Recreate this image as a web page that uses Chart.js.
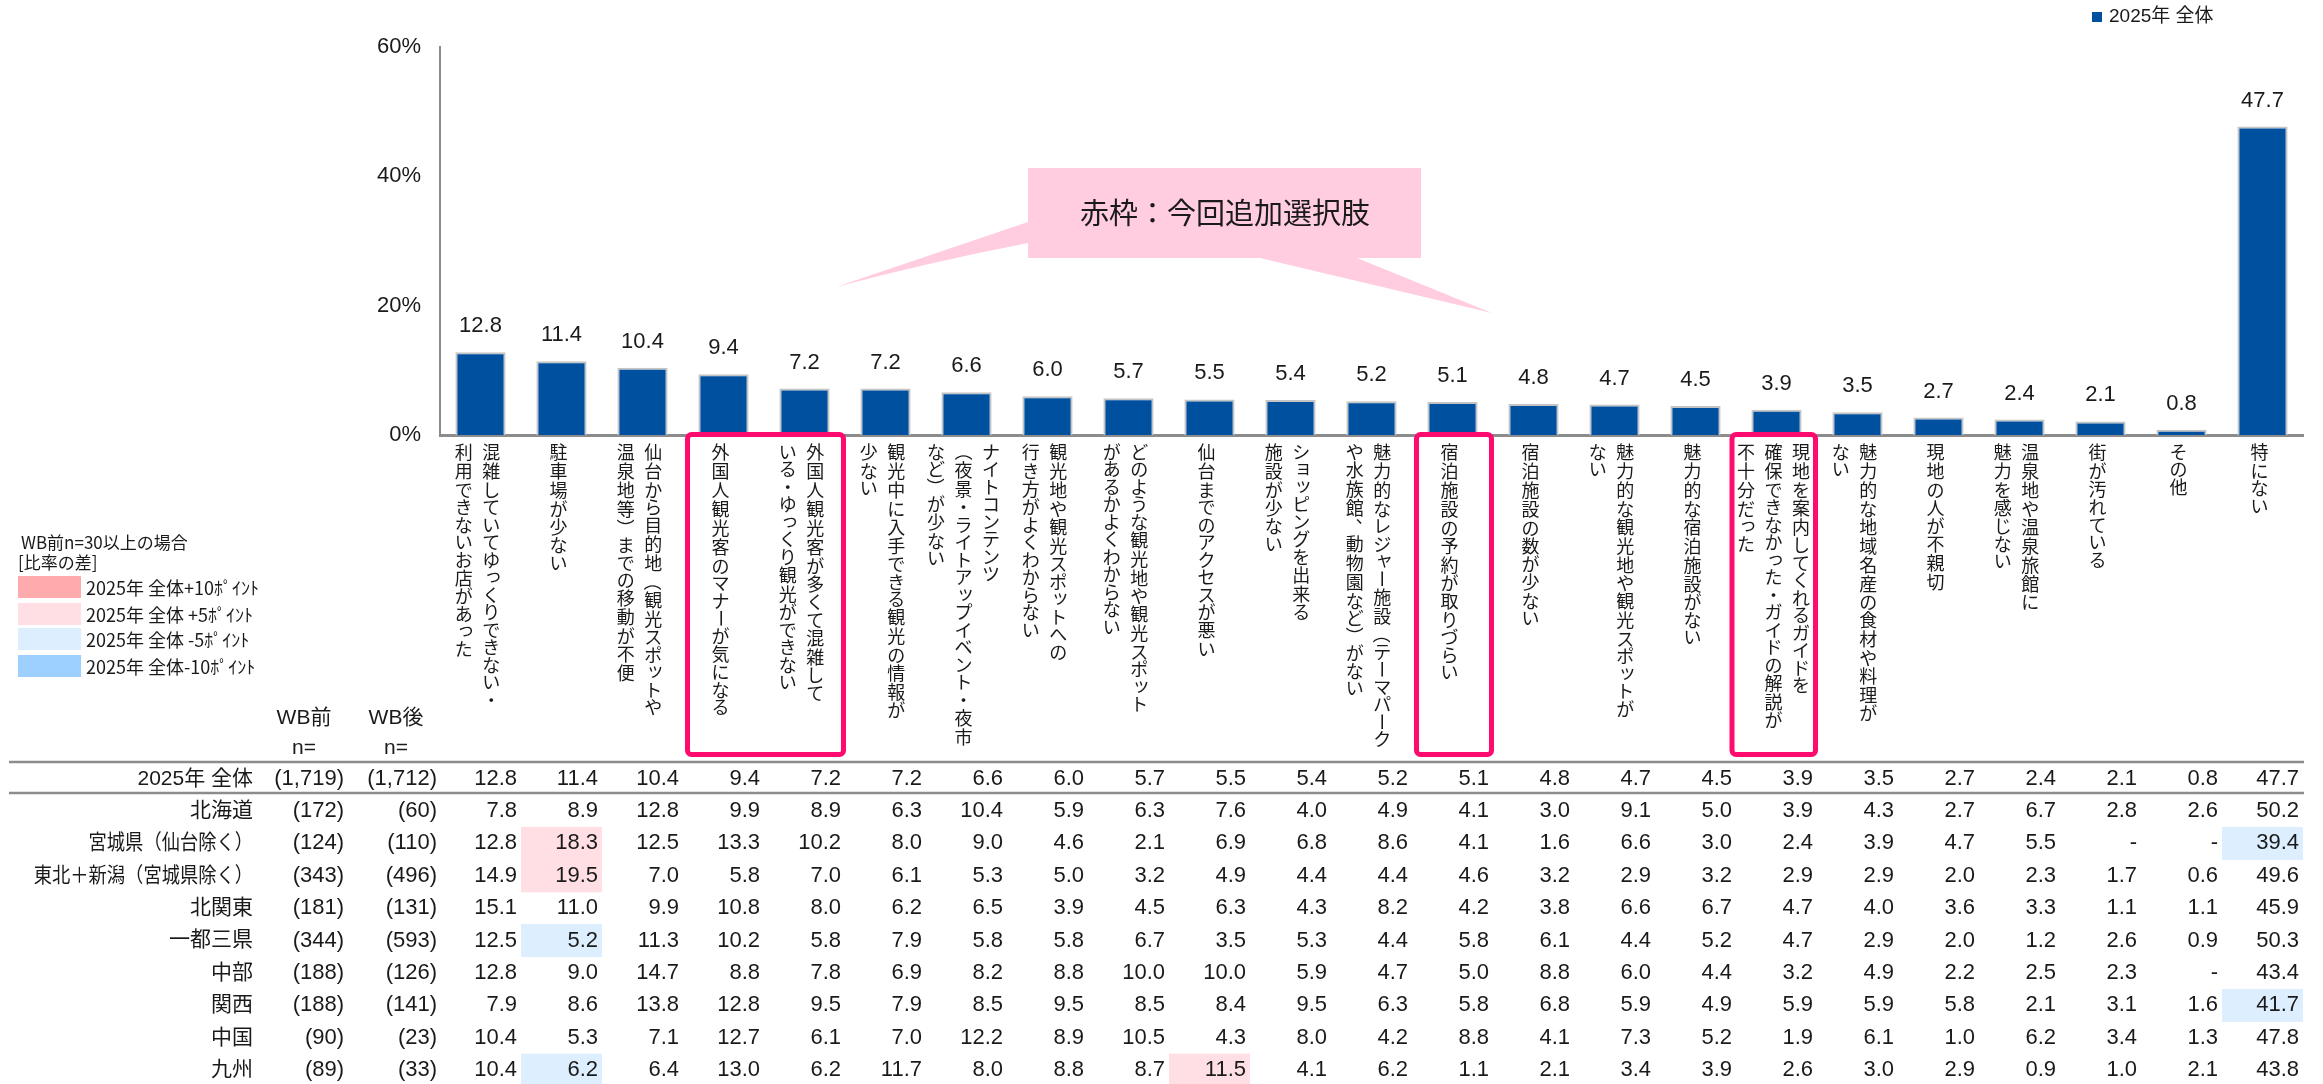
<!DOCTYPE html>
<html lang="ja">
<head>
  <meta charset="UTF-8" />
  <title>旅行先で不満に感じたこと</title>
  <script src="https://cdn.jsdelivr.net/npm/chart.js"></script>
  <style>
    html, body {
      margin: 0;
      padding: 0;
      background: #ffffff;
    }
    canvas {
      display: block;
    }
  </style>
</head>
<body>
  <canvas id="grafico" width="2323" height="1084"></canvas>

  <script>
    // Categorias (cada item = colunas do texto vertical, da direita para a esquerda)
    const categorias = [
      ['混雑していてゆっくりできない・', '利用できないお店があった'],
      ['駐車場が少ない'],
      ['仙台から目的地（観光スポットや', '温泉地等）までの移動が不便'],
      ['外国人観光客のマナーが気になる'],
      ['外国人観光客が多くて混雑して', 'いる・ゆっくり観光ができない'],
      ['観光中に入手できる観光の情報が', '少ない'],
      ['ナイトコンテンツ', '（夜景・ライトアップイベント・夜市', 'など）が少ない'],
      ['観光地や観光スポットへの', '行き方がよくわからない'],
      ['どのような観光地や観光スポット', 'があるかよくわからない'],
      ['仙台までのアクセスが悪い'],
      ['ショッピングを出来る', '施設が少ない'],
      ['魅力的なレジャー施設（テーマパーク', 'や水族館、動物園など）がない'],
      ['宿泊施設の予約が取りづらい'],
      ['宿泊施設の数が少ない'],
      ['魅力的な観光地や観光スポットが', 'ない'],
      ['魅力的な宿泊施設がない'],
      ['現地を案内してくれるガイドを', '確保できなかった・ガイドの解説が', '不十分だった'],
      ['魅力的な地域名産の食材や料理が', 'ない'],
      ['現地の人が不親切'],
      ['温泉地や温泉旅館に', '魅力を感じない'],
      ['街が汚れている'],
      ['その他'],
      ['特にない']
    ];

    const serieLabel = '2025年 全体';
    const total2025 = [12.8, 11.4, 10.4, 9.4, 7.2, 7.2, 6.6, 6.0, 5.7, 5.5, 5.4, 5.2, 5.1, 4.8, 4.7, 4.5, 3.9, 3.5, 2.7, 2.4, 2.1, 0.8, 47.7];
    const totalN = [1719, 1712];

    // Novos itens (faixas de índices com moldura vermelha)
    const novosItens = [[3, 4], [12, 12], [16, 16]];

    const yTicks = [0, 20, 40, 60];

    // Tabela por região
    const regioes = ['北海道', '宮城県（仙台除く）', '東北＋新潟（宮城県除く）', '北関東', '一都三県', '中部', '関西', '中国', '九州'];
    const nAntes = [172, 124, 343, 181, 344, 188, 188, 90, 89];
    const nDepois = [60, 110, 496, 131, 593, 126, 141, 23, 33];

    const hokkaido = [7.8, 8.9, 12.8, 9.9, 8.9, 6.3, 10.4, 5.9, 6.3, 7.6, 4.0, 4.9, 4.1, 3.0, 9.1, 5.0, 3.9, 4.3, 2.7, 6.7, 2.8, 2.6, 50.2];
    const miyagi = [12.8, 18.3, 12.5, 13.3, 10.2, 8.0, 9.0, 4.6, 2.1, 6.9, 6.8, 8.6, 4.1, 1.6, 6.6, 3.0, 2.4, 3.9, 4.7, 5.5, null, null, 39.4];
    const tohoku = [14.9, 19.5, 7.0, 5.8, 7.0, 6.1, 5.3, 5.0, 3.2, 4.9, 4.4, 4.4, 4.6, 3.2, 2.9, 3.2, 2.9, 2.9, 2.0, 2.3, 1.7, 0.6, 49.6];
    const kitaKanto = [15.1, 11.0, 9.9, 10.8, 8.0, 6.2, 6.5, 3.9, 4.5, 6.3, 4.3, 8.2, 4.2, 3.8, 6.6, 6.7, 4.7, 4.0, 3.6, 3.3, 1.1, 1.1, 45.9];
    const ittoSanken = [12.5, 5.2, 11.3, 10.2, 5.8, 7.9, 5.8, 5.8, 6.7, 3.5, 5.3, 4.4, 5.8, 6.1, 4.4, 5.2, 4.7, 2.9, 2.0, 1.2, 2.6, 0.9, 50.3];
    const chubu = [12.8, 9.0, 14.7, 8.8, 7.8, 6.9, 8.2, 8.8, 10.0, 10.0, 5.9, 4.7, 5.0, 8.8, 6.0, 4.4, 3.2, 4.9, 2.2, 2.5, 2.3, null, 43.4];
    const kansai = [7.9, 8.6, 13.8, 12.8, 9.5, 7.9, 8.5, 9.5, 8.5, 8.4, 9.5, 6.3, 5.8, 6.8, 5.9, 4.9, 5.9, 5.9, 5.8, 2.1, 3.1, 1.6, 41.7];
    const chugoku = [10.4, 5.3, 7.1, 12.7, 6.1, 7.0, 12.2, 8.9, 10.5, 4.3, 8.0, 4.2, 8.8, 4.1, 7.3, 5.2, 1.9, 6.1, 1.0, 6.2, 3.4, 1.3, 47.8];
    const kyushu = [10.4, 6.2, 6.4, 13.0, 6.2, 11.7, 8.0, 8.8, 8.7, 11.5, 4.1, 6.2, 1.1, 2.1, 3.4, 3.9, 2.6, 3.0, 2.9, 0.9, 1.0, 2.1, 43.8];
    const valoresRegiao = [hokkaido, miyagi, tohoku, kitaKanto, ittoSanken, chubu, kansai, chugoku, kyushu];

    // Legenda do mapa de cores
    const legendaTitulo = ['WB前n=30以上の場合', '[比率の差]'];
    const legendaItens = ['2025年 全体+10ﾎﾟｲﾝﾄ', '2025年 全体 +5ﾎﾟｲﾝﾄ', '2025年 全体 -5ﾎﾟｲﾝﾄ', '2025年 全体-10ﾎﾟｲﾝﾄ'];
    const calloutTexto = '赤枠：今回追加選択肢';

    const corBarra = '#0050a0';
    const corMais10 = '#ffaaad';
    const corMais5 = '#ffdfe3';
    const corMenos5 = '#ddeeff';
    const corMenos10 = '#9dcfff';
    const corLinha = '#8c8c8c';
    const corTexto = '#1a1a1a';
    const fonteLatina = '"Liberation Sans", "Noto Sans CJK JP", sans-serif';
    const fonteJP = '"Noto Sans CJK JP", sans-serif';

    const colunaPasso = 27.5;

    // Diferença em relação ao total (só quando n >= 30)
    function corDiferenca(v, base, n) {
      if (v === null || n < 30) return null;
      const d = Math.round((v - base) * 10) / 10;
      if (d > 10) return corMais10;
      if (d > 5) return corMais5;
      if (d < -10) return corMenos10;
      if (d < -5) return corMenos5;
      return null;
    }

    // Texto vertical, caractere por caractere
    function textoVertical(ctx, texto, x, y) {
      let cy = y;
      for (const ch of texto) {
        const passo = /[\u4e00-\u9fff]/.test(ch) ? 19 : 17.5;
        const meio = cy + passo / 2;
        if ('ー（）～－'.includes(ch)) {
          ctx.save();
          ctx.translate(x, meio);
          ctx.rotate(Math.PI / 2);
          ctx.fillText(ch, 0, 0);
          ctx.restore();
        } else if ('、。'.includes(ch)) {
          ctx.fillText(ch, x + passo * 0.55, meio - passo * 0.55);
        } else if ('ッっャュョィァぁゃゅょ'.includes(ch)) {
          ctx.fillText(ch, x + 2, meio - 2);
        } else {
          ctx.fillText(ch, x, meio);
        }
        cy += passo;
      }
    }

    const desenhoExtra = {
      id: 'desenhoExtra',
      afterDraw(chart) {
        const ctx = chart.ctx;
        const xs = chart.scales.x;
        const meta = chart.getDatasetMeta(0);
        const meia = (xs.getPixelForValue(1) - xs.getPixelForValue(0)) / 2;
        const fimLinha = xs.right + 1;
        const colunaX = (i, j) => {
          const k = categorias[i].length;
          return xs.getPixelForValue(i) - 3 + ((k - 1) / 2 - j) * colunaPasso;
        };

        ctx.save();

        // Rótulos de valor acima das barras
        ctx.fillStyle = corTexto;
        ctx.font = '22px ' + fonteLatina;
        ctx.textAlign = 'center';
        ctx.textBaseline = 'middle';
        meta.data.forEach((bar, i) => {
          ctx.fillText(total2025[i].toFixed(1), bar.x, bar.y - 26);
        });

        // Categorias em texto vertical
        ctx.font = '18px ' + fonteJP;
        categorias.forEach((linhas, i) => {
          linhas.forEach((linha, j) => {
            textoVertical(ctx, linha, colunaX(i, j), 443);
          });
        });

        // Molduras vermelhas dos novos itens
        ctx.strokeStyle = '#ff0a6e';
        ctx.lineWidth = 5;
        novosItens.forEach(([a, b]) => {
          const textoEsq = colunaX(a, categorias[a].length - 1) - 9;
          const textoDir = colunaX(b, 0) + 9;
          const x0 = Math.min(xs.getPixelForValue(a) - meia + 4.5, textoEsq - 5);
          const x1 = Math.max(xs.getPixelForValue(b) + meia - 1.5, textoDir + 5);
          ctx.beginPath();
          ctx.roundRect(x0, chart.chartArea.bottom - 0.5, x1 - x0, 320, 4);
          ctx.stroke();
        });

        // Balão explicativo
        ctx.fillStyle = '#ffcce0';
        ctx.beginPath();
        ctx.moveTo(1028, 168);
        ctx.lineTo(1421, 168);
        ctx.lineTo(1421, 258);
        ctx.lineTo(1357, 258);
        ctx.lineTo(1492, 313);
        ctx.lineTo(1260, 258);
        ctx.lineTo(1028, 258);
        ctx.lineTo(1028, 243);
        ctx.quadraticCurveTo(930, 262, 836, 287);
        ctx.lineTo(1028, 222);
        ctx.closePath();
        ctx.fill();
        ctx.fillStyle = corTexto;
        ctx.font = '29px ' + fonteJP;
        ctx.textAlign = 'center';
        ctx.fillText(calloutTexto, 1225, 213);

        // Legenda da série (canto superior direito)
        ctx.fillStyle = corBarra;
        ctx.fillRect(2092, 12, 10, 10);
        ctx.fillStyle = corTexto;
        ctx.font = '19px ' + fonteLatina;
        ctx.textAlign = 'left';
        ctx.fillText(chart.data.datasets[0].label, 2109, 17);

        // Legenda das cores
        ctx.font = '17px ' + fonteJP;
        ctx.fillText(legendaTitulo[0], 21, 543);
        ctx.fillText(legendaTitulo[1], 18, 563);
        const coresLegenda = [corMais10, corMais5, corMenos5, corMenos10];
        const ysLegenda = [576, 603, 628, 655];
        legendaItens.forEach((txt, i) => {
          ctx.fillStyle = coresLegenda[i];
          ctx.fillRect(18, ysLegenda[i], 63, 22);
          ctx.fillStyle = corTexto;
          ctx.font = '18px ' + fonteJP;
          ctx.fillText(txt, 86, ysLegenda[i] + 12);
        });

        // Cabeçalho da tabela
        ctx.font = '21px ' + fonteLatina;
        ctx.textAlign = 'center';
        ctx.fillText('WB前', 304, 718);
        ctx.fillText('n=', 304, 748);
        ctx.fillText('WB後', 396, 718);
        ctx.fillText('n=', 396, 748);

        // Linhas da tabela
        ctx.strokeStyle = corLinha;
        ctx.lineWidth = 2.5;
        [762, 793].forEach((y) => {
          ctx.beginPath();
          ctx.moveTo(9, y);
          ctx.lineTo(fimLinha, y);
          ctx.stroke();
        });

        const fmtN = (n) => '(' + n.toLocaleString('en-US') + ')';
        const fmtV = (v) => (v === null ? '-' : v.toFixed(1));

        function linhaTabela(nome, n0, n1, valores, y, destacar) {
          valores.forEach((v, i) => {
            const cor = destacar ? corDiferenca(v, total2025[i], n1) : null;
            if (cor) {
              ctx.fillStyle = cor;
              ctx.fillRect(xs.getPixelForValue(i) - meia, y - 16.5, meia * 2, 33);
            }
          });
          ctx.fillStyle = corTexto;
          ctx.textAlign = 'right';
          ctx.font = '21px ' + fonteLatina;
          // parênteses largos: comprime um pouco o nome
          const larg = ctx.measureText(nome).width;
          ctx.fillText(nome, 253, y, nome.includes('（') ? larg * 0.87 : larg);
          ctx.font = '22px ' + fonteLatina;
          ctx.fillText(fmtN(n0), 344, y);
          ctx.fillText(fmtN(n1), 437, y);
          valores.forEach((v, i) => {
            ctx.fillText(fmtV(v), xs.getPixelForValue(i) + meia - 4, y);
          });
        }

        ctx.textBaseline = 'middle';
        linhaTabela(serieLabel, totalN[0], totalN[1], total2025, 779, false);
        regioes.forEach((nome, r) => {
          linhaTabela(nome, nAntes[r], nDepois[r], valoresRegiao[r], 811 + r * 32.4, true);
        });

        ctx.restore();
      }
    };

    const ctx = document.getElementById('grafico').getContext('2d');
    new Chart(ctx, {
      type: 'bar',
      data: {
        labels: categorias.map((l) => l.join('')),
        datasets: [
          {
            label: serieLabel,
            data: total2025,
            backgroundColor: corBarra,
            borderColor: '#c4c4c4',
            borderWidth: 2,
            barPercentage: 0.62,
            categoryPercentage: 1
          }
        ]
      },
      options: {
        responsive: false,
        devicePixelRatio: 1,
        animation: false,
        layout: {
          padding: { top: 47, right: 20, bottom: 649, left: 0 }
        },
        plugins: {
          legend: { display: false },
          tooltip: { enabled: false }
        },
        scales: {
          x: {
            grid: { display: false, drawTicks: false },
            ticks: { display: false },
            border: { color: corLinha, width: 3 },
            afterFit: (scale) => { scale.height = 0; }
          },
          y: {
            min: 0,
            max: 60,
            afterBuildTicks: (scale) => { scale.ticks = yTicks.map((v) => ({ value: v })); },
            ticks: {
              callback: (v) => v + '%',
              color: corTexto,
              padding: 19,
              font: { size: 22, family: fonteLatina }
            },
            grid: { display: false, drawTicks: false },
            border: { color: corLinha, width: 2 },
            afterFit: (scale) => { scale.width = 440; }
          }
        }
      },
      plugins: [desenhoExtra]
    });
  </script>
</body>
</html>
